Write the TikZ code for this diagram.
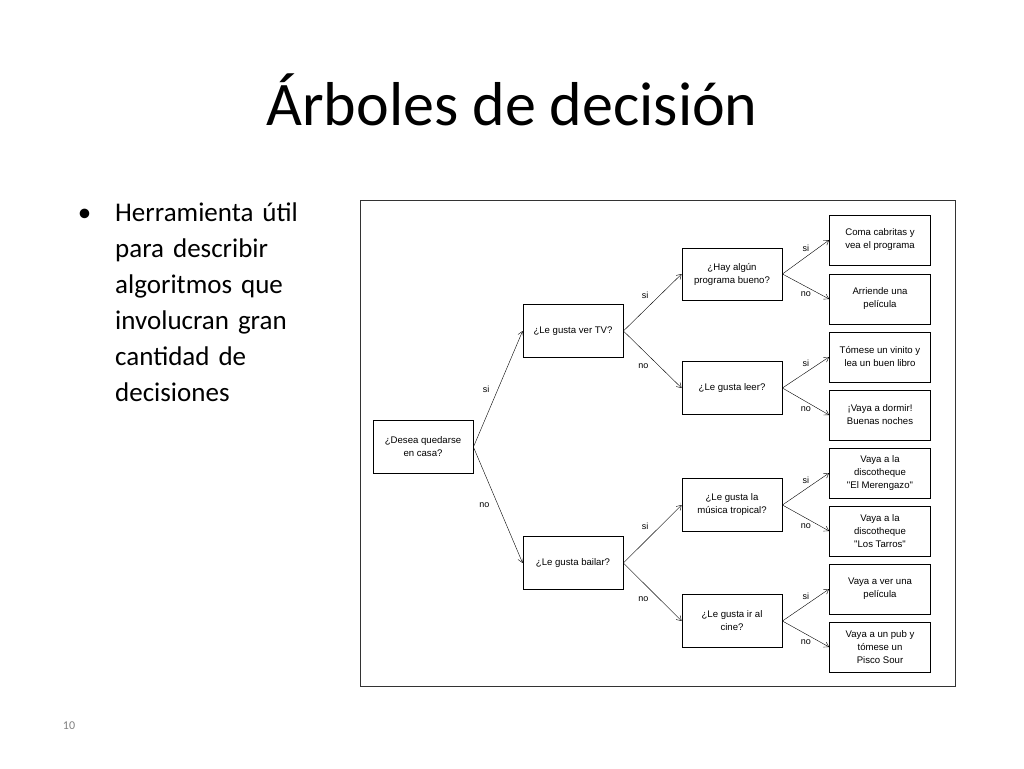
\documentclass[tikz,border=0pt]{standalone}
\usepackage{fontspec}
\setmainfont{Carlito}
\newfontfamily\diagfont{Liberation Sans}
\usetikzlibrary{positioning}
\usetikzlibrary{arrows.meta}
\tikzset{>={Straight Barb[length=1.6mm,width=2mm]}}

\begin{document}
\begin{tikzpicture}[x=1pt, y=-1pt, box/.style={draw=black, thick, fill=white, minimum width=100pt, align=center, inner sep=1pt, font=\diagfont\fontsize{9.6}{13}\selectfont}, leaf/.style={box, minimum width=101pt, minimum height=50pt}, inner/.style={box, minimum height=53pt}, lbl/.style={font=\diagfont\fontsize{9}{10}\selectfont}]
    \useasboundingbox (0,0) rectangle (1024,768);

    %Title and text
    \node[font=\fontsize{62}{66}\selectfont](title) at (512,100){Árboles de decisión};
    \node[font=\fontsize{27}{36}\selectfont, anchor=north west, text width=215pt, inner sep=0pt](bullets) at (115,203){\raggedright\hyphenpenalty=10000\makebox[0pt][r]{\textbullet\hspace{24pt}}Herramienta útil para describir algoritmos que involucran gran cantidad de decisiones\par};
    \node[font=\fontsize{12}{14}\selectfont, text=black!50](pagenum) at (69,726){10};
    \node[draw=black!80, thick, minimum width=595pt, minimum height=486pt](frame) at (657.5,443){};

    %Nodes
    \node[inner](casa) at (423,447){¿Desea quedarse\\en casa?};
    \node[inner](tv) at (573,331){¿Le gusta ver TV?};
    \node[inner](bailar) at (573,563){¿Le gusta bailar?};
    \node[inner, minimum height=52pt](programa) at (732,274){¿Hay algún\\programa bueno?};
    \node[inner](leer) at (732,388){¿Le gusta leer?};
    \node[inner](tropical) at (732,505){¿Le gusta la\\música tropical?};
    \node[inner](cine) at (732,621){¿Le gusta ir al\\cine?};
    \node[leaf](cabritas) at (880,240){Coma cabritas y\\vea el programa};
    \node[leaf](arriende) at (880,299){Arriende una\\película};
    \node[leaf](vinito) at (880,357){Tómese un vinito y\\lea un buen libro};
    \node[leaf](dormir) at (880,415){¡Vaya a dormir!\\Buenas noches};
    \node[leaf](merengazo) at (880,473){Vaya a la\\discotheque\\"El Merengazo"};
    \node[leaf](tarros) at (880,531){Vaya a la\\discotheque\\"Los Tarros"};
    \node[leaf](pelicula) at (880,589){Vaya a ver una\\película};
    \node[leaf](pub) at (880,647){Vaya a un pub y\\tómese un\\Pisco Sour};

    %Lines
    \draw[->] (casa.east) -- node[lbl, pos=0.5, left=5pt]{si} (tv.west);
    \draw[->] (casa.east) -- node[lbl, pos=0.5, left=5pt]{no} (bailar.west);
    \draw[->] (tv.east) -- node[lbl, pos=0.5, above left=1pt]{si} (programa.west);
    \draw[->] (tv.east) -- node[lbl, pos=0.5, below left=1pt]{no} (leer.west);
    \draw[->] (bailar.east) -- node[lbl, pos=0.5, above left=1pt]{si} (tropical.west);
    \draw[->] (bailar.east) -- node[lbl, pos=0.5, below left=1pt]{no} (cine.west);
    \foreach \parent/\yes/\no in {programa/cabritas/arriende, leer/vinito/dormir, tropical/merengazo/tarros, cine/pelicula/pub}{
        \draw[->] (\parent.east) -- node[lbl, pos=0.5, above=2pt]{si} (\yes.west);
        \draw[->] (\parent.east) -- node[lbl, pos=0.5, below=2pt]{no} (\no.west);
    }
\end{tikzpicture}
\end{document}
